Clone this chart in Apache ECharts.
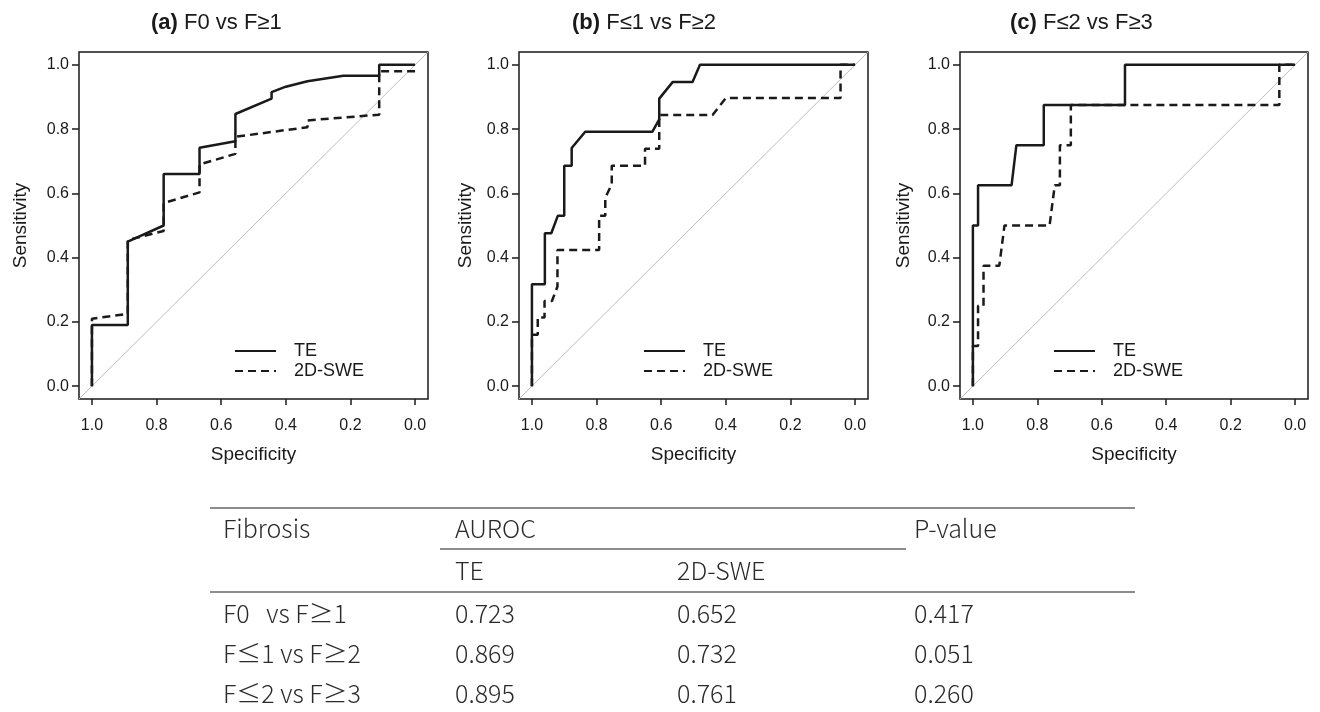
<!DOCTYPE html>
<html>
<head>
<meta charset="utf-8">
<script src="https://cdn.jsdelivr.net/npm/echarts@6/dist/echarts.min.js"></script>
<style>
html, body { margin: 0; padding: 0; background: #fff; }
#main { width: 1320px; height: 712px; }
</style>
</head>
<body>
<div id="main"></div>
<script>
// 面板标题
const panelTags = ['(a)', '(b)', '(c)'];
const panelNames = ['F0 vs F≥1', 'F≤1 vs F≥2', 'F≤2 vs F≥3'];
const tickValues = [0, 0.2, 0.4, 0.6, 0.8, 1.0];
const axisMin = -0.04, axisMax = 1.04;

// ROC 曲线点 [specificity, sensitivity]
const teA = [[1, 0], [1, 0.19], [0.889, 0.19], [0.889, 0.45], [0.778, 0.50], [0.778, 0.66], [0.667, 0.66], [0.667, 0.742], [0.556, 0.762], [0.556, 0.847], [0.444, 0.895], [0.444, 0.915], [0.40, 0.932], [0.333, 0.949], [0.222, 0.966], [0.111, 0.966], [0.111, 1], [0, 1]];
const sweA = [[1, 0], [1, 0.21], [0.889, 0.225], [0.889, 0.455], [0.778, 0.483], [0.778, 0.57], [0.667, 0.603], [0.667, 0.69], [0.556, 0.723], [0.556, 0.776], [0.333, 0.806], [0.333, 0.827], [0.111, 0.845], [0.111, 0.98], [0, 0.98]];

const teB = [[1, 0], [1, 0.317], [0.96, 0.317], [0.96, 0.476], [0.94, 0.476], [0.92, 0.53], [0.90, 0.53], [0.90, 0.686], [0.877, 0.686], [0.877, 0.741], [0.835, 0.792], [0.627, 0.792], [0.606, 0.83], [0.606, 0.895], [0.564, 0.947], [0.503, 0.947], [0.48, 1], [0, 1]];
const sweB = [[1, 0], [1, 0.16], [0.982, 0.16], [0.982, 0.214], [0.961, 0.214], [0.961, 0.265], [0.938, 0.265], [0.921, 0.31], [0.921, 0.424], [0.792, 0.424], [0.792, 0.53], [0.773, 0.53], [0.773, 0.586], [0.753, 0.628], [0.753, 0.686], [0.65, 0.686], [0.65, 0.739], [0.606, 0.739], [0.606, 0.844], [0.441, 0.844], [0.40, 0.897], [0.045, 0.897], [0.045, 1], [0, 1]];

const teC = [[1, 0], [1, 0.5], [0.984, 0.5], [0.984, 0.625], [0.88, 0.625], [0.865, 0.75], [0.78, 0.75], [0.78, 0.875], [0.528, 0.875], [0.528, 1], [0, 1]];
const sweC = [[1, 0], [1, 0.125], [0.984, 0.125], [0.984, 0.25], [0.967, 0.25], [0.967, 0.375], [0.918, 0.375], [0.902, 0.5], [0.762, 0.5], [0.746, 0.625], [0.73, 0.625], [0.73, 0.75], [0.696, 0.75], [0.696, 0.875], [0.049, 0.875], [0.049, 1], [0, 1]];

// 对角参考线 y = 1 - x
const diag = [[axisMax, 1 - axisMax], [axisMin, 1 - axisMin]];

// 表格
const tableHead = ['Fibrosis', 'AUROC', 'P-value'];
const tableSub = ['TE', '2D-SWE'];
const tableRows = ['F0   vs F≥1', 'F≤1 vs F≥2', 'F≤2 vs F≥3'];
const aurocTE = ['0.723', '0.869', '0.895'];
const aurocSWE = ['0.652', '0.732', '0.761'];
const pValues = ['0.417', '0.051', '0.260'];

const teList = [teA, teB, teC];
const sweList = [sweA, sweB, sweC];

// 布局
const grids = [
  { left: 79, top: 52, width: 349, height: 347 },
  { left: 519, top: 52, width: 349, height: 347 },
  { left: 960, top: 52, width: 348, height: 347 }
];
const titleLeft = [151, 572, 1010];
const yNameGap = [49, 44, 47];
const legendLeft = [234, 643, 1053];

const plotFont = '"Liberation Sans", Arial, sans-serif';
const tableFont = '"Noto Sans CJK JP", "Noto Sans", sans-serif';
const ink = '#1a1a1a';

const myChart = echarts.init(document.getElementById('main'));

let option = {
  animation: false,
  backgroundColor: '#fff',
  title: [],
  grid: [],
  xAxis: [],
  yAxis: [],
  legend: [],
  series: [],
  graphic: []
};

for (let i = 0; i < 3; i++) {
  option.title.push({
    text: '{b|' + panelTags[i] + '} ' + panelNames[i],
    left: titleLeft[i],
    top: 12,
    padding: 0,
    textStyle: {
      fontFamily: plotFont,
      fontSize: 22,
      fontWeight: 'normal',
      color: ink,
      rich: { b: { fontFamily: plotFont, fontSize: 22, fontWeight: 'bold', color: ink } }
    }
  });
  option.grid.push(Object.assign({
    show: true,
    borderColor: ink,
    borderWidth: 1.5,
    backgroundColor: 'transparent'
  }, grids[i]));
  option.xAxis.push({
    type: 'value',
    gridIndex: i,
    min: axisMin,
    max: axisMax,
    inverse: true,//1.0 在左
    name: 'Specificity',
    nameLocation: 'middle',
    nameGap: 46,
    nameTextStyle: { fontFamily: plotFont, fontSize: 19, color: ink },
    splitLine: { show: false },
    axisLine: { show: false, onZero: false },
    axisTick: { show: true, length: 6, customValues: tickValues, lineStyle: { color: ink, width: 1.5 } },
    axisLabel: {
      customValues: tickValues,
      formatter: v => v.toFixed(1),
      margin: 19,
      fontFamily: plotFont,
      fontSize: 16,
      color: ink
    }
  });
  option.yAxis.push({
    type: 'value',
    gridIndex: i,
    min: axisMin,
    max: axisMax,
    name: 'Sensitivity',
    nameLocation: 'middle',
    nameGap: yNameGap[i],
    nameRotate: 90,
    nameTextStyle: { fontFamily: plotFont, fontSize: 19, color: ink },
    splitLine: { show: false },
    axisLine: { show: false, onZero: false },
    axisTick: { show: true, length: 7, customValues: tickValues, lineStyle: { color: ink, width: 1.5 } },
    axisLabel: {
      customValues: tickValues,
      formatter: v => v.toFixed(1),
      margin: 10,
      fontFamily: plotFont,
      fontSize: 16,
      color: ink
    }
  });
  option.legend.push({
    orient: 'vertical',
    left: legendLeft[i],
    top: 341,
    padding: 0,
    itemWidth: 41,
    itemHeight: 14,
    itemGap: 0,
    selectedMode: false,
    itemStyle: { opacity: 0 },//隐藏图例圆点
    data: ['TE', '2D-SWE'],
    textStyle: { fontFamily: plotFont, fontSize: 18, color: ink, lineHeight: 20, padding: [0, 0, 0, 13] }
  });
  // 对角线
  option.series.push({
    type: 'line',
    xAxisIndex: i,
    yAxisIndex: i,
    data: diag,
    symbol: 'none',
    silent: true,
    z: 1,
    lineStyle: { color: '#bdbdbd', width: 1 }
  });
  option.series.push({
    name: 'TE',
    type: 'line',
    xAxisIndex: i,
    yAxisIndex: i,
    data: teList[i],
    symbol: 'none',
    z: 3,
    lineStyle: { color: ink, width: 2.5 },
    itemStyle: { color: ink }
  });
  option.series.push({
    name: '2D-SWE',
    type: 'line',
    xAxisIndex: i,
    yAxisIndex: i,
    data: sweList[i],
    symbol: 'none',
    z: 2,
    lineStyle: { color: ink, width: 2.5, type: [8, 5] },
    itemStyle: { color: ink }
  });
}

// 表格（graphic 绘制）
const colX = [223, 455, 677, 914];
const rowY = [528, 570, 613, 653, 693];
const lineColor = '#666';
const tableText = (text, x, y) => ({
  type: 'text',
  x: x,
  y: y,
  style: {
    text: text,
    fill: '#2a2a2a',
    fontFamily: tableFont,
    fontSize: 25,
    fontWeight: 300,
    verticalAlign: 'middle',
    align: 'left'
  }
});
const hLine = (x1, x2, y) => ({
  type: 'line',
  shape: { x1: x1, y1: y, x2: x2, y2: y },
  style: { stroke: lineColor, lineWidth: 1.5 }
});

option.graphic.push(hLine(210, 1135, 508));
option.graphic.push(hLine(440, 906, 549));
option.graphic.push(hLine(210, 1135, 592));
option.graphic.push(tableText(tableHead[0], colX[0], rowY[0]));
option.graphic.push(tableText(tableHead[1], colX[1], rowY[0]));
option.graphic.push(tableText(tableHead[2], colX[3], rowY[0]));
option.graphic.push(tableText(tableSub[0], colX[1], rowY[1]));
option.graphic.push(tableText(tableSub[1], colX[2], rowY[1]));
for (let r = 0; r < tableRows.length; r++) {
  option.graphic.push(tableText(tableRows[r], colX[0], rowY[r + 2]));
  option.graphic.push(tableText(aurocTE[r], colX[1], rowY[r + 2]));
  option.graphic.push(tableText(aurocSWE[r], colX[2], rowY[r + 2]));
  option.graphic.push(tableText(pValues[r], colX[3], rowY[r + 2]));
}

myChart.setOption(option);
</script>
</body>
</html>
